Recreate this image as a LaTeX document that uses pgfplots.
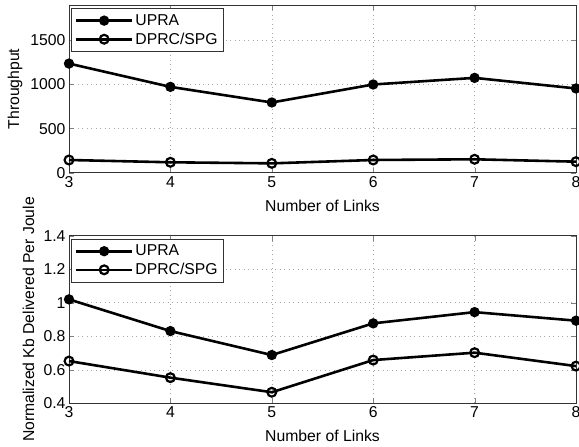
\documentclass[border=0pt]{standalone}
\usepackage{pgfplots}
\pgfplotsset{compat=1.18}
\usepackage{fontspec}
\setmainfont{Liberation Sans}
\begin{document}
\begin{tikzpicture}
\path[use as bounding box] (-69bp,-43.7bp) rectangle (510bp,403.3bp);
\pgfplotsset{
  every axis/.append style={
    scale only axis, width=507bp, height=167.6bp,
    xmin=3, xmax=8, xtick={3,4,5,6,7,8},
    grid=major,
    major grid style={gray!70, line width=0.5pt, dash pattern=on 1pt off 3.5pt},
    font=\fontsize{15.8}{18}\selectfont,
    /pgf/number format/assume math mode=true,
    /pgf/number format/1000 sep={},
    tick align=inside, tick pos=both,
    major tick length=5bp,
    axis line style={black!80, line width=0.7pt},
    xlabel={Number of Links},
    xlabel style={at={(axis description cs:0.5,0)}, anchor=center, yshift=-33bp},
    legend cell align=left,
    legend style={at={(axis description cs:0.003,0.982)}, anchor=north west,
      draw=black!80, line width=0.7pt, inner xsep=4bp, inner ysep=4bp, row sep=2bp,
      font=\fontsize{15.8}{18}\selectfont},
  },
  longlegend/.style={legend image code/.code={\draw[mark repeat=2,mark phase=2,##1] plot coordinates {(0bp,0bp)(28bp,0bp)(56bp,0bp)};}},
  upra/.style={black, line width=2.6pt, mark=*, mark size=3.8bp, mark options={solid, fill=black}, longlegend},
  dprc/.style={black, line width=2.6pt, mark=o, mark size=4.4bp, mark options={solid, line width=2.2pt}, longlegend},
}
% top axis
\begin{axis}[at={(0,230.6bp)}, anchor=south west,
  ymin=0, ymax=1900, ytick={0,500,1000,1500},
  ylabel={Throughput},
  ylabel style={at={(axis description cs:-0.1065,0.5)}, anchor=center, rotate=0},
]
\addplot[upra] coordinates {(3,1237) (4,973) (5,796) (6,1000) (7,1075) (8,955)};
\addlegendentry{UPRA}
\addplot[dprc] coordinates {(3,144) (4,118) (5,106) (6,144) (7,152) (8,125)};
\addlegendentry{DPRC/SPG}
\end{axis}
% bottom axis
\begin{axis}[at={(0,0)}, anchor=south west,
  ymin=0.4, ymax=1.4, ytick={0.4,0.6,0.8,1,1.2,1.4},
  yticklabels={0.4,0.6,0.8,1,1.2,1.4},
  ylabel={Normalized Kb Delivered Per Joule},
  ylabel style={at={(axis description cs:-0.08,0.5)}, anchor=center, rotate=0},
]
\addplot[upra] coordinates {(3,1.02) (4,0.831) (5,0.688) (6,0.877) (7,0.944) (8,0.893)};
\addlegendentry{UPRA}
\addplot[dprc] coordinates {(3,0.652) (4,0.553) (5,0.466) (6,0.658) (7,0.702) (8,0.622)};
\addlegendentry{DPRC/SPG}
\end{axis}
\end{tikzpicture}
\end{document}
